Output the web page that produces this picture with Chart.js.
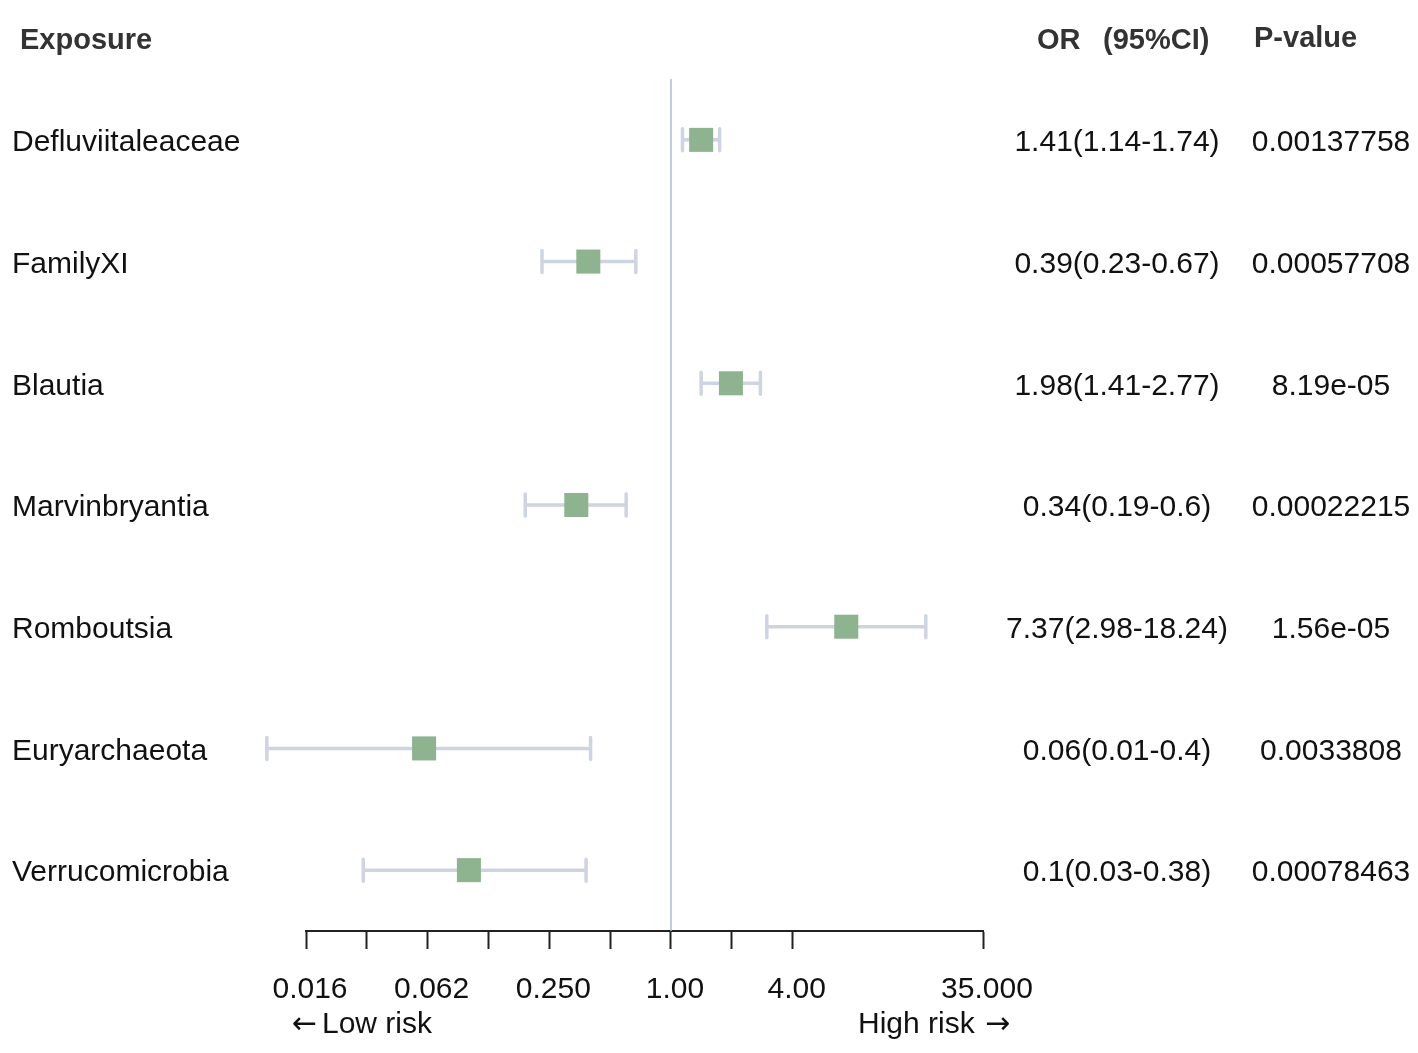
<!DOCTYPE html>
<html>
<head>
<meta charset="utf-8">
<script src="https://cdn.jsdelivr.net/npm/chart.js@4/dist/chart.umd.min.js"></script>
<style>
  html, body { margin: 0; padding: 0; background: #fff; }
  #wrap { width: 1418px; height: 1053px; position: relative; }
</style>
</head>
<body>
<div id="wrap"><canvas id="myChart"></canvas></div>
<script>
// data
const exposures = ['Defluviitaleaceae', 'FamilyXI', 'Blautia', 'Marvinbryantia', 'Romboutsia', 'Euryarchaeota', 'Verrucomicrobia'];
const orValues = [1.41, 0.39, 1.98, 0.34, 7.37, 0.06, 0.1];
const ciLow = [1.14, 0.23, 1.41, 0.19, 2.98, 0.01, 0.03];
const ciHigh = [1.74, 0.67, 2.77, 0.6, 18.24, 0.4, 0.38];
const pValues = ['0.00137758', '0.00057708', '8.19e-05', '0.00022215', '1.56e-05', '0.0033808', '0.00078463'];

const tickValues = [1/64, 1/32, 1/16, 1/8, 1/4, 1/2, 1, 2, 4, 35];
const tickLabels = ['0.016', '', '0.062', '', '0.250', '', '1.00', '', '4.00', '35.000'];

const FONT = '"Liberation Sans", Arial, sans-serif';

// points for the squares
let pts = [];
for (var i = 0; i < exposures.length; i++)
	pts.push({ x: orValues[i], y: i });

// error bars + all the side text
const forestPlugin = {
	id: 'forest',
	beforeDatasetsDraw(chart) {
		const ctx = chart.ctx;
		const xs = chart.scales.x, ys = chart.scales.y;
		ctx.save();
		ctx.strokeStyle = '#cfd4e2';
		ctx.lineWidth = 3.5;
		ctx.lineCap = 'round';
		for (var i = 0; i < exposures.length; i++) {
			const y = ys.getPixelForValue(i);
			const x1 = xs.getPixelForValue(ciLow[i]);
			const x2 = xs.getPixelForValue(ciHigh[i]);
			ctx.beginPath();
			ctx.moveTo(x1, y); ctx.lineTo(x2, y);
			ctx.moveTo(x1, y - 11); ctx.lineTo(x1, y + 11);
			ctx.moveTo(x2, y - 11); ctx.lineTo(x2, y + 11);
			ctx.stroke();
		}
		ctx.restore();
	},
	afterDraw(chart) {
		const ctx = chart.ctx;
		const ys = chart.scales.y;
		ctx.save();
		ctx.textBaseline = 'middle';

		// headers
		ctx.fillStyle = '#333';
		ctx.font = 'bold 29px ' + FONT;
		ctx.textAlign = 'left';
		ctx.fillText('Exposure', 20, 41);
		ctx.fillText('OR', 1037, 41);
		ctx.fillText('(95%CI)', 1103, 41);
		ctx.fillText('P-value', 1254, 39);

		// rows
		ctx.fillStyle = '#111';
		ctx.font = '30px ' + FONT;
		for (var i = 0; i < exposures.length; i++) {
			const y = ys.getPixelForValue(i) + 3;
			ctx.textAlign = 'left';
			ctx.fillText(exposures[i], 12, y);
			ctx.textAlign = 'center';
			ctx.fillText(orValues[i] + '(' + ciLow[i] + '-' + ciHigh[i] + ')', 1117, y);
			ctx.fillText(pValues[i], 1331, y);
		}

		// risk direction labels
		ctx.textAlign = 'left';
		ctx.font = '30px "DejaVu Sans", sans-serif';
		ctx.fillText('\u2190', 292, 1025);
		ctx.font = '30px ' + FONT;
		ctx.fillText('Low risk', 322, 1025);
		ctx.fillText('High risk', 858, 1025);
		ctx.font = '30px "DejaVu Sans", sans-serif';
		ctx.fillText('\u2192', 985, 1025);
		ctx.restore();
	}
};

const data = {
	datasets: [{
		type: 'scatter',
		label: 'OR',
		data: pts,
		pointStyle: 'rect',
		pointRadius: 17,
		pointHoverRadius: 17,
		backgroundColor: '#8db48e',
		borderWidth: 0,
		order: 0
	}, {
		type: 'line',
		label: 'ref',
		data: [{ x: 1, y: -0.5 }, { x: 1, y: exposures.length - 0.5 }],
		borderColor: '#a9bfcc',
		borderWidth: 1.5,
		pointRadius: 0,
		order: 1
	}]
};

const config = {
	type: 'scatter',
	data: data,
	plugins: [forestPlugin],
	options: {
		responsive: true,
		maintainAspectRatio: false,
		animation: false,
		layout: { padding: { left: 306, right: 435, top: 79, bottom: 0 } },
		plugins: { legend: { display: false }, tooltip: { enabled: false } },
		scales: {
			x: {
				type: 'logarithmic',
				position: 'bottom',
				min: 1/64,
				max: 35,
				afterBuildTicks(scale) {
					scale.ticks = tickValues.map(v => ({ value: v }));
				},
				afterFit(scale) { scale.height = 122; },
				grid: {
					drawOnChartArea: false,
					drawTicks: true,
					tickLength: 18,
					tickWidth: 2,
					tickColor: '#222'
				},
				border: { display: true, color: '#222', width: 2 },
				ticks: {
					autoSkip: false,
					maxRotation: 0,
					padding: 23,
					labelOffset: 4,
					color: '#111',
					font: { size: 30, family: FONT },
					callback: function(v, idx) { return tickLabels[idx]; }
				}
			},
			y: {
				type: 'linear',
				display: false,
				reverse: true,
				min: -0.5,
				max: exposures.length - 0.5
			}
		}
	}
};

const myChart = new Chart(document.getElementById('myChart'), config);
</script>
</body>
</html>
